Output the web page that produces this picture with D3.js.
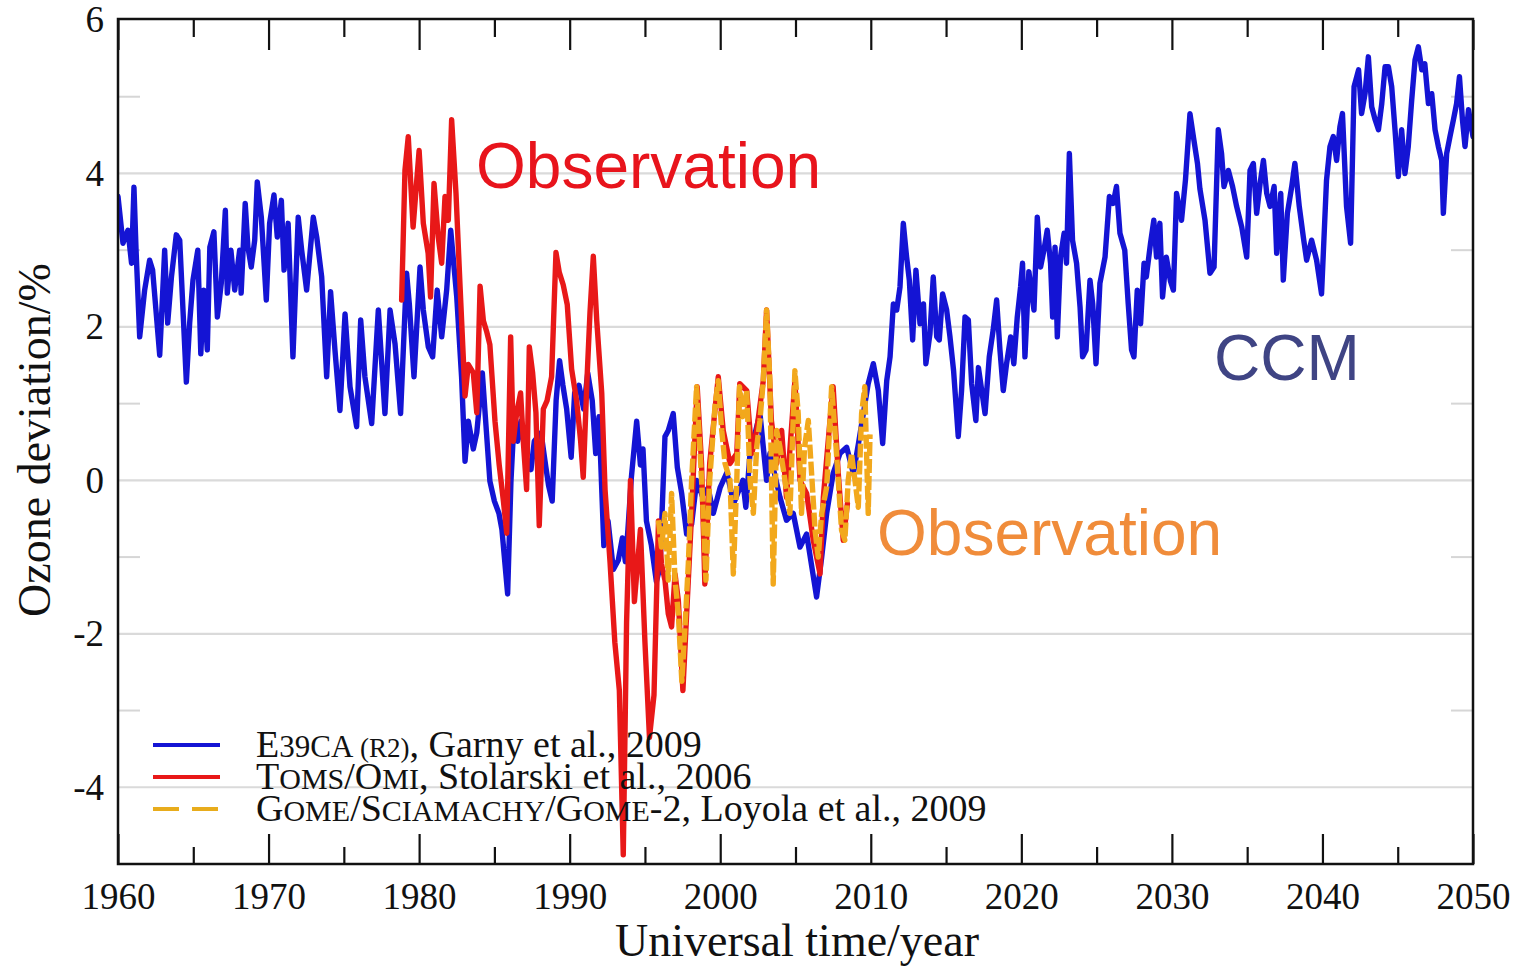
<!DOCTYPE html>
<html>
<head>
<meta charset="utf-8">
<script src="https://cdn.jsdelivr.net/npm/d3@7"></script>
<style>
  html, body { margin: 0; padding: 0; background: #ffffff; }
  svg { display: block; }
</style>
</head>
<body>
<svg id="chart" width="1521" height="968"></svg>
<script>
// ---------------- DATA ----------------
const xTickYears = [1960, 1970, 1980, 1990, 2000, 2010, 2020, 2030, 2040, 2050];
const xMinorYears = [1965, 1975, 1985, 1995, 2005, 2015, 2025, 2035, 2045];
const yTickValues = [-4, -2, 0, 2, 4, 6];
const yGridValues = [-4, -2, 0, 2, 4];
const yMinorValues = [-3, -1, 1, 3, 5];

// CCM E39CA (R2) model series
const ccmYears = [
 1960.0,1960.33,1960.66,1960.9,1961.06,1961.2,1961.44,1961.77,1962.1,1962.3,1962.77,1963.1,1963.3,1963.55,1963.87,
 1964.1,1964.54,1964.76,1964.98,1965.3,1965.5,1965.7,1965.93,1966.1,1966.37,1966.6,1966.86,1967.13,1967.26,1967.5,
 1967.75,1968.08,1968.18,1968.45,1968.63,1968.85,1969.08,1969.25,1969.52,1969.85,1970.07,1970.36,1970.58,1970.85,
 1971.03,1971.3,1971.62,1971.97,1972.2,1972.53,1972.97,1973.2,1973.53,1973.86,1974.12,1974.41,1974.74,1975.08,
 1975.41,1975.85,1976.12,1976.4,1976.85,1977.29,1977.73,1978.07,1978.4,1978.77,1979.17,1979.35,1979.66,1980.06,
 1980.28,1980.61,1980.9,1981.2,1981.5,1981.83,1982.1,1982.5,1982.82,1983.05,1983.27,1983.6,1983.83,1984.2,1984.4,
 1984.7,1985.0,1985.3,1985.5,1985.88,1986.1,1986.32,1986.54,1986.76,1987.1,1987.43,1987.65,1988.1,1988.4,1988.6,
 1988.84,1989.1,1989.33,1989.55,1989.8,1990.1,1990.33,1990.62,1990.93,1991.2,1991.5,1991.73,1991.95,1992.27,
 1992.55,1992.9,1993.23,1993.5,1993.7,1993.87,1994.1,1994.45,1994.7,1994.87,1995.1,1995.43,1995.76,1996.0,1996.33,
 1996.55,1996.88,1997.15,1997.44,1997.77,1998.1,1998.44,1998.8,1999.2,1999.54,2000.0,2000.44,2000.9,2001.5,2001.7,
 2001.98,2002.64,2003.08,2003.3,2003.97,2004.4,2004.85,2005.3,2005.74,2006.4,2006.74,2007.07,2007.5,2007.95,
 2008.4,2008.84,2009.2,2009.83,2010.17,2010.5,2010.79,2011.06,2011.28,2011.5,2011.72,2011.94,2012.16,2012.38,
 2012.56,2012.78,2013.0,2013.27,2013.5,2013.66,2013.93,2014.15,2014.38,2014.55,2014.77,2015.04,2015.26,2015.5,
 2015.81,2016.03,2016.26,2016.48,2016.7,2016.98,2017.15,2017.37,2017.59,2017.87,2018.13,2018.36,2018.58,2018.8,
 2019.02,2019.29,2019.5,2019.73,2019.95,2020.08,2020.24,2020.5,2020.84,2021.06,2021.28,2021.5,2021.72,2021.94,
 2022.08,2022.24,2022.39,2022.6,2022.84,2023.0,2023.19,2023.4,2023.67,2023.9,2024.07,2024.3,2024.56,2024.74,
 2024.96,2025.22,2025.56,2025.85,2026.1,2026.32,2026.55,2026.87,2027.1,2027.32,2027.48,2027.7,2027.92,2028.15,
 2028.3,2028.58,2028.8,2028.98,2029.2,2029.38,2029.63,2029.9,2030.1,2030.31,2030.64,2030.9,2031.2,2031.45,2031.7,
 2031.86,2032.2,2032.53,2032.8,2033.08,2033.3,2033.46,2033.75,2034.03,2034.3,2034.64,2034.97,2035.19,2035.41,
 2035.63,2035.86,2036.08,2036.3,2036.52,2036.79,2036.96,2037.23,2037.4,2037.67,2037.96,2038.17,2038.46,2038.73,
 2038.95,2039.28,2039.61,2039.94,2040.27,2040.5,2040.72,2040.94,2041.16,2041.33,2041.6,2041.87,2042.1,2042.4,
 2042.6,2042.83,2043.05,2043.27,2043.5,2043.72,2043.94,2044.16,2044.38,2044.6,2044.82,2045.04,2045.26,2045.48,
 2045.7,2045.93,2046.15,2046.37,2046.6,2046.8,2047.04,2047.26,2047.48,2047.7,2047.92,2048.03,2048.25,2048.47,
 2048.7,2048.91,2049.1,2049.3,2049.47,2049.7,2050.0
];
const ccmValues = [
 3.70,3.09,3.26,2.83,3.82,3.00,1.87,2.48,2.87,2.74,1.63,3.00,2.05,2.65,3.20,
 3.13,1.28,2.05,2.61,3.00,1.65,2.48,1.70,3.04,3.24,2.13,2.57,3.52,2.44,3.00,
 2.48,3.00,2.44,3.61,3.04,2.78,3.13,3.89,3.43,2.35,3.35,3.72,3.17,3.65,
 2.74,3.35,1.61,3.43,3.00,2.48,3.43,3.17,2.65,1.35,2.46,1.70,0.91,2.17,
 1.22,0.70,2.09,1.35,0.74,2.22,0.87,2.22,1.78,0.87,2.70,2.30,1.35,2.78,
 2.22,1.74,1.61,2.48,1.87,2.48,3.26,2.39,1.35,0.25,0.77,0.41,0.62,1.40,0.83,
 -0.01,-0.27,-0.43,-0.64,-1.48,-0.01,0.83,0.51,0.77,0.30,0.14,0.51,0.62,0.20,-0.07,
 -0.27,1.04,1.56,1.24,0.93,0.30,1.14,1.24,0.93,1.40,1.04,0.35,0.83,-0.85,
 -0.53,-1.16,-1.04,-0.75,-1.06,-0.64,0.04,0.77,0.20,0.41,-0.53,-0.85,-1.32,-1.13,0.57,
 0.65,0.87,0.17,-0.17,-0.70,-0.57,0.00,-0.20,-0.10,-0.43,-0.09,0.10,-0.30,0.00,-0.35,
 0.35,0.87,0.00,0.35,-0.22,-0.52,-0.43,-0.87,-0.70,-1.52,-1.00,-0.43,0.09,0.35,
 0.43,0.09,0.50,1.26,1.52,1.17,0.48,1.30,1.61,2.30,2.22,2.52,3.35,2.91,
 2.61,1.83,2.74,2.04,2.30,1.52,1.91,2.65,1.87,1.83,2.43,2.22,1.87,1.43,
 0.57,1.17,2.13,2.09,1.26,0.78,1.47,1.17,0.87,1.61,1.96,2.35,1.70,1.17,
 1.52,1.87,1.52,2.13,2.52,2.83,1.61,2.72,2.22,3.43,2.78,3.00,3.26,2.83,
 2.13,3.04,1.87,2.91,3.22,2.83,4.26,3.13,2.83,2.26,1.61,1.70,2.61,2.30,
 1.52,2.57,2.91,3.70,3.61,3.83,3.22,3.00,2.30,1.70,1.61,2.48,2.04,2.83,
 2.65,3.09,3.39,2.91,3.35,2.39,2.91,2.60,2.48,3.74,3.39,3.91,4.78,4.45,4.13,
 3.80,3.39,2.70,2.78,4.57,4.26,3.83,4.04,3.83,3.57,3.30,2.91,4.04,4.13,
 3.48,3.87,4.17,3.74,3.57,3.83,2.96,3.74,2.61,3.48,3.83,4.13,3.57,3.17,
 2.87,3.13,2.87,2.43,3.91,4.35,4.48,4.17,4.61,4.78,3.57,3.09,5.13,5.35,
 4.78,5.04,5.52,4.87,4.70,4.57,4.91,5.39,5.39,5.13,4.57,3.96,4.57,4.00,
 4.35,4.96,5.48,5.65,5.35,5.43,4.91,5.04,4.57,4.35,4.17,3.48,4.26,4.48,
 4.70,4.91,5.26,4.70,4.35,4.83,4.48
];

// TOMS/OMI observations
const tomsYears = [
 1978.84,1979.06,1979.28,1979.6,1980.0,1980.28,1980.6,1980.76,1980.99,1981.27,1981.5,1981.72,1981.94,1982.16,
 1982.45,1982.71,1983.05,1983.27,1983.6,1983.83,1984.05,1984.27,1984.5,1984.7,1985.04,1985.32,1985.6,1985.82,
 1986.08,1986.26,1986.48,1986.74,1986.92,1987.14,1987.32,1987.54,1987.76,1987.98,1988.25,1988.5,1988.8,1989.09,
 1989.31,1989.57,1989.84,1990.13,1990.46,1990.73,1990.9,1991.17,1991.35,1991.57,1991.8,1992.13,1992.35,1992.68,
 1993.0,1993.3,1993.56,1993.78,1994.04,1994.3,1994.7,1995.0,1995.3,1995.6,1995.9,1996.1,1996.33,1996.55,1996.77,
 1997.0,1997.22,1997.52,1997.77,1998.1,1998.47,1998.76,1998.98,1999.3,1999.87,2000.2,2000.65,2001.1,2001.3,
 2001.76,2002.1,2002.42,2002.86,2003.08,2003.4,2003.75,2004.08,2004.4,2004.96,2005.3,2005.74,2006.18,2006.63,
 2006.85,2007.29,2007.5,2007.84,2008.17,2008.45
];
const tomsValues = [
 2.35,4.04,4.48,3.30,4.30,3.35,2.96,2.39,3.87,3.17,2.83,3.70,3.39,4.70,
 3.74,2.57,1.10,1.51,1.40,0.88,2.53,2.08,1.93,1.77,0.77,0.20,-0.27,-0.69,
 1.87,0.51,0.88,1.14,0.51,-0.12,1.74,1.40,0.88,-0.59,0.93,1.04,1.35,2.97,
 2.71,2.55,2.29,1.45,1.04,0.51,0.04,1.40,2.19,2.92,2.08,1.14,-0.12,-1.06,
 -2.11,-2.74,-4.88,-1.85,0.00,-1.58,-0.64,-2.11,-3.35,-2.80,-0.53,-1.09,-1.30,-1.74,-1.91,
 -1.22,-1.57,-2.74,-1.74,-0.43,1.22,0.22,-1.35,0.22,1.35,0.65,0.22,0.35,1.26,
 1.17,0.35,0.65,1.30,2.22,0.78,0.22,0.65,-0.22,1.30,0.00,-0.17,-0.78,-1.22,
 -0.22,0.78,1.22,0.09,-0.78,-0.30
];

// GOME/SCIAMACHY/GOME-2 observations
const gomeYears = [
 1995.89,1996.1,1996.33,1996.55,1996.77,1997.0,1997.22,1997.45,1997.66,1997.88,1998.1,1998.43,1998.65,1998.87,
 1999.05,1999.3,1999.65,1999.87,2000.1,2000.32,2000.65,2000.87,2001.1,2001.28,2001.5,2001.76,2001.98,2002.2,
 2002.42,2002.64,2002.86,2003.08,2003.3,2003.52,2003.75,2003.97,2004.3,2004.63,2004.96,2005.18,2005.4,2005.6,
 2005.85,2006.07,2006.3,2006.51,2006.74,2007.07,2007.4,2007.62,2007.84,2008.06,2008.28,2008.5,2008.72,2008.95,
 2009.17,2009.39,2009.6,2009.83,2009.95
];
const gomeValues = [
 -0.52,-0.87,-0.43,-1.30,-0.17,-1.30,-1.74,-2.62,-1.91,-1.09,0.00,1.22,0.43,-0.43,
 -1.30,0.00,0.96,1.30,0.65,0.22,0.00,-1.22,0.00,1.22,0.83,1.17,0.00,-0.43,
 0.43,0.78,1.30,2.22,1.30,-1.35,0.65,0.43,0.00,-0.43,1.43,0.87,-0.43,0.43,
 0.78,0.09,-0.65,-1.00,-0.43,-0.09,1.22,0.65,0.00,-0.65,-0.78,0.00,0.35,0.00,
 -0.35,0.87,1.22,-0.43,0.60
];

// ---------------- CHART ----------------
const svg = d3.select('#chart');
const serif = '"Liberation Serif", "Times New Roman", Times, serif';
const sans = '"Liberation Sans", Arial, Helvetica, sans-serif';

const pL = 118, pR = 1473, pT = 20, pB = 864;
const x = d3.scaleLinear().domain([1960, 2050]).range([pL, pR]);
const y = d3.scaleLinear().domain([-5, 6]).range([pB, pT]);

svg.append('rect').attr('width', 1521).attr('height', 968).attr('fill', '#fff');

// grid lines
svg.append('g').selectAll('line').data(yGridValues).join('line')
  .attr('x1', pL).attr('x2', pR)
  .attr('y1', d => y(d)).attr('y2', d => y(d))
  .attr('stroke', '#dadada').attr('stroke-width', 2.2);

// minor y ticks (grey, both sides)
const ym = svg.append('g');
ym.selectAll('line.l').data(yMinorValues).join('line').attr('class', 'l')
  .attr('x1', pL).attr('x2', pL + 22)
  .attr('y1', d => y(d)).attr('y2', d => y(d))
  .attr('stroke', '#d6d6d6').attr('stroke-width', 2);
ym.selectAll('line.r').data(yMinorValues).join('line').attr('class', 'r')
  .attr('x1', pR - 22).attr('x2', pR)
  .attr('y1', d => y(d)).attr('y2', d => y(d))
  .attr('stroke', '#d6d6d6').attr('stroke-width', 2);

// clip
svg.append('clipPath').attr('id', 'plotclip').append('rect')
  .attr('x', pL).attr('y', pT).attr('width', pR - pL).attr('height', pB - pT);

const line = d3.line().x(d => x(d[0])).y(d => y(d[1]));
const plot = svg.append('g').attr('clip-path', 'url(#plotclip)');

const ccm = ccmYears.map((t, i) => [t, ccmValues[i]]);
const toms = tomsYears.map((t, i) => [t, tomsValues[i]]);
const gome = gomeYears.map((t, i) => [t, gomeValues[i]]);

plot.append('path').datum(ccm).attr('d', line)
  .attr('fill', 'none').attr('stroke', '#1414d4').attr('stroke-width', 5.4)
  .attr('stroke-linejoin', 'round').attr('stroke-linecap', 'round');
plot.append('path').datum(toms).attr('d', line)
  .attr('fill', 'none').attr('stroke', '#e81818').attr('stroke-width', 5.4)
  .attr('stroke-linejoin', 'round').attr('stroke-linecap', 'round');
plot.append('path').datum(gome).attr('d', line)
  .attr('fill', 'none').attr('stroke', '#f2a81c').attr('stroke-width', 5.4)
  .attr('stroke-linejoin', 'round').attr('stroke-dasharray', '14,3');

// x axes (ticks inward)
function styleAxis(g) {
  g.select('.domain').remove();
  g.selectAll('.tick line').attr('stroke', '#111').attr('stroke-width', 2.2);
  g.selectAll('text').attr('font-family', serif).attr('font-size', 37).attr('fill', '#111');
}
const fmtInt = d => String(d);
svg.append('g').attr('transform', `translate(0,${pB})`)
  .call(d3.axisBottom(x).tickValues(xTickYears).tickSizeInner(-30).tickSizeOuter(0).tickPadding(19).tickFormat(fmtInt))
  .call(styleAxis);
svg.append('g').attr('transform', `translate(0,${pB})`)
  .call(d3.axisBottom(x).tickValues(xMinorYears).tickSizeInner(-17).tickSizeOuter(0).tickFormat(''))
  .call(styleAxis);
svg.append('g').attr('transform', `translate(0,${pT})`)
  .call(d3.axisTop(x).tickValues(xTickYears).tickSizeInner(-30).tickSizeOuter(0).tickFormat(''))
  .call(styleAxis);
svg.append('g').attr('transform', `translate(0,${pT})`)
  .call(d3.axisTop(x).tickValues(xMinorYears).tickSizeInner(-17).tickSizeOuter(0).tickFormat(''))
  .call(styleAxis);

// y axis labels (plain hyphen minus, as in the reference)
svg.append('g').attr('transform', `translate(${pL},0)`)
  .call(d3.axisLeft(y).tickValues(yTickValues).tickSize(0).tickPadding(14).tickFormat(fmtInt))
  .call(styleAxis);

// frame
svg.append('rect').attr('x', pL).attr('y', pT - 1).attr('width', pR - pL).attr('height', pB - pT + 1)
  .attr('fill', 'none').attr('stroke', '#111').attr('stroke-width', 2.5);

// axis titles
svg.append('text').attr('x', 797).attr('y', 956).attr('text-anchor', 'middle')
  .attr('font-family', serif).attr('font-size', 46).attr('fill', '#111')
  .text('Universal time/year');
svg.append('text').attr('transform', 'translate(50,440) rotate(-90)').attr('text-anchor', 'middle')
  .attr('font-family', serif).attr('font-size', 46).attr('fill', '#111')
  .text('Ozone deviation/%');

// legend
const legendItems = [
  { color: '#1414d4', dash: null, parts: [['E', 38], ['39CA', 31], [' (R2)', 27], [', Garny et al., 2009', 38]] },
  { color: '#e81818', dash: null, parts: [['T', 38], ['OMS', 30], ['/O', 38], ['MI', 30], [', Stolarski et al., 2006', 38]] },
  { color: '#e8ac1c', dash: '26,13', parts: [['G', 38], ['OME', 30], ['/S', 38], ['CIAMACHY', 30], ['/G', 38], ['OME', 30], ['-2, Loyola et al., 2009', 38]] }
];
const lg = svg.append('g');
legendItems.forEach((it, i) => {
  const ly = 745 + i * 32;
  lg.append('line').attr('x1', 153).attr('x2', 220).attr('y1', ly).attr('y2', ly)
    .attr('stroke', it.color).attr('stroke-width', 4)
    .attr('stroke-dasharray', it.dash);
  const t = lg.append('text').attr('x', 256).attr('y', ly + 12)
    .attr('font-family', serif).attr('fill', '#111');
  it.parts.forEach(p => t.append('tspan').attr('font-size', p[1]).text(p[0]));
});

// annotations
svg.append('text').attr('x', 476).attr('y', 188).attr('font-family', sans).attr('font-size', 64)
  .attr('fill', '#e8141c').text('Observation');
svg.append('text').attr('x', 877).attr('y', 555).attr('font-family', sans).attr('font-size', 64)
  .attr('fill', '#f08c3a').text('Observation');
svg.append('text').attr('x', 1214).attr('y', 380).attr('font-family', sans).attr('font-size', 64)
  .attr('fill', '#3f4484').text('CCM');
</script>
</body>
</html>
